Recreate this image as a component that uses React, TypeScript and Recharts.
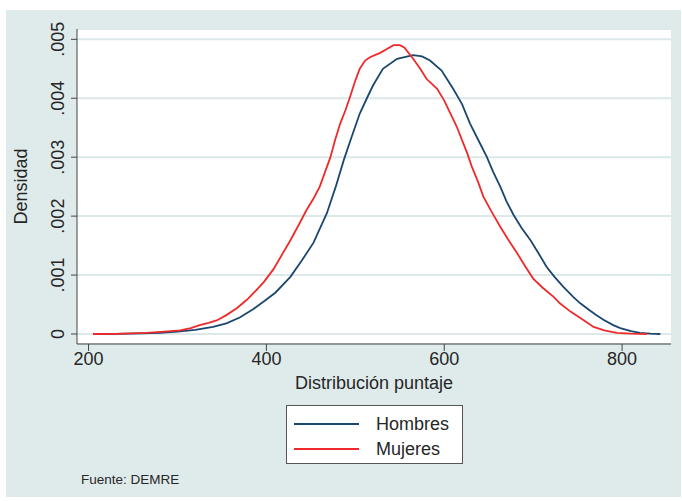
import { CartesianGrid, Line, LineChart, XAxis, YAxis } from "recharts";

const xTicks = [200, 400, 600, 800];
const yTicks = [0, 0.001, 0.002, 0.003, 0.004, 0.005];
const yTickLabels = ["0", ".001", ".002", ".003", ".004", ".005"];

const hombresScore = [
  205, 230, 260, 280, 300, 320, 340, 355, 370, 385, 397, 410, 427, 440, 453, 468, 478, 487, 496, 505,
  513, 520, 531, 547, 565, 575, 584, 597, 610, 620, 629, 638, 648, 655, 663, 670, 678, 687, 697, 706,
  715, 724, 734, 745, 753, 760, 770, 779, 790, 798, 810, 820, 832, 843,
];
const hombresDensity = [
  0, 0.000003, 0.00001, 0.00002, 0.00004, 0.00007, 0.00012, 0.00018, 0.00028, 0.00042, 0.00055, 0.0007,
  0.00097, 0.00125, 0.00155, 0.00205, 0.0025, 0.00295, 0.00335, 0.00374, 0.004, 0.00422, 0.0045, 0.00467,
  0.00473, 0.00471, 0.00464, 0.00447, 0.00416, 0.0039, 0.00357, 0.0033, 0.003, 0.00275, 0.0025, 0.00225,
  0.00202, 0.0018, 0.00159, 0.00137, 0.00114, 0.00097, 0.0008, 0.00063, 0.00052, 0.00044, 0.00033,
  0.00024, 0.00015, 0.0001, 0.00005, 0.00002, 0.000005, 0,
];

const mujeresScore = [
  205, 230, 265, 285, 303, 315, 325, 335, 344, 355, 367, 378, 389, 397, 408, 427, 436, 445, 453, 460,
  466, 472, 477, 483, 489, 494, 500, 505, 511, 517, 528, 536, 543, 550, 555, 565, 573, 580, 592, 600,
  607, 614, 620, 626, 631, 638, 644, 653, 663, 672, 682, 691, 700, 711, 723, 730, 742, 753, 768, 780,
  794, 810, 828,
];
const mujeresDensity = [
  0, 0.000003, 0.00002, 0.00004, 0.00006, 0.0001, 0.00015, 0.00019, 0.00023, 0.00032, 0.00044, 0.00058,
  0.00075, 0.00088, 0.0011, 0.00159, 0.00184, 0.0021, 0.0023, 0.0025, 0.00275, 0.003, 0.00328, 0.00357,
  0.0038, 0.00402, 0.0043, 0.0045, 0.00464, 0.0047, 0.00477, 0.00484, 0.0049, 0.0049, 0.00486, 0.00467,
  0.0045, 0.00433, 0.00416, 0.00396, 0.00374, 0.00352, 0.00329, 0.00306, 0.00284, 0.00258, 0.00233,
  0.00208, 0.00182, 0.0016, 0.00137, 0.00115, 0.00094, 0.00078, 0.00063, 0.00052, 0.00038, 0.00027,
  0.00012, 0.00006, 0.00002, 0.000005, 0,
];

const series = [
  { name: "Hombres", color: "#1a476f", data: hombresScore.map((x, i) => ({ x, y: hombresDensity[i] })) },
  { name: "Mujeres", color: "#ee2a2a", data: mujeresScore.map((x, i) => ({ x, y: mujeresDensity[i] })) },
];

const font = "'Liberation Sans', Arial, sans-serif";
const textColor = "#262626";

const YTick = ({ x, y, index }: any) => (
  <text
    x={x}
    y={y}
    transform={`rotate(-90, ${x}, ${y})`}
    textAnchor="middle"
    fontSize={18}
    fontFamily={font}
    fill={textColor}
  >
    {yTickLabels[index]}
  </text>
);

export default function App() {
  return (
    <div
      style={{
        position: "absolute",
        left: 6,
        top: 10,
        width: 675,
        height: 487,
        background: "#dfebeb",
        fontFamily: font,
      }}
    >
      <LineChart width={675} height={487} margin={{ top: 19, right: 10, left: 0, bottom: 0 }}>
        <CartesianGrid vertical={false} stroke="#dce8ea" strokeWidth={2} fill="#ffffff" fillOpacity={1} />
        <XAxis
          type="number"
          dataKey="x"
          domain={[187, 855]}
          allowDataOverflow
          ticks={xTicks}
          height={153}
          stroke="#444"
          tickSize={7}
          tickMargin={1}
          tick={{ fontSize: 18, fill: textColor, fontFamily: font }}
          label={{
            value: "Distribución puntaje",
            position: "insideTop",
            offset: 32,
            fontSize: 18,
            fill: textColor,
            fontFamily: font,
          }}
        />
        <YAxis
          type="number"
          domain={[-0.00017, 0.005175]}
          allowDataOverflow
          ticks={yTicks}
          width={71}
          stroke="#444"
          tickSize={6}
          tickMargin={7}
          tick={<YTick />}
          label={{
            value: "Densidad",
            angle: -90,
            position: "insideLeft",
            offset: 15,
            fontSize: 18,
            fill: textColor,
            fontFamily: font,
            style: { textAnchor: "middle" },
          }}
        />
        {series.map((s) => (
          <Line
            key={s.name}
            data={s.data}
            dataKey="y"
            name={s.name}
            stroke={s.color}
            strokeWidth={1.8}
            dot={false}
            type="linear"
            isAnimationActive={false}
          />
        ))}
      </LineChart>
      <div
        style={{
          position: "absolute",
          left: 280,
          top: 395,
          width: 177,
          height: 59,
          background: "#ffffff",
          border: "1px solid #555",
          boxSizing: "border-box",
        }}
      >
        {series.map((s, i) => (
          <div
            key={s.name}
            style={{ position: "absolute", left: 0, top: 6 + i * 25, height: 24, display: "flex", alignItems: "center" }}
          >
            <div style={{ marginLeft: 7, width: 65, height: 2, background: s.color }} />
            <span style={{ marginLeft: 17, fontSize: 18, color: textColor, lineHeight: "24px" }}>{s.name}</span>
          </div>
        ))}
      </div>
      <div style={{ position: "absolute", left: 75, top: 462, fontSize: 13.5, color: textColor }}>Fuente: DEMRE</div>
    </div>
  );
}
